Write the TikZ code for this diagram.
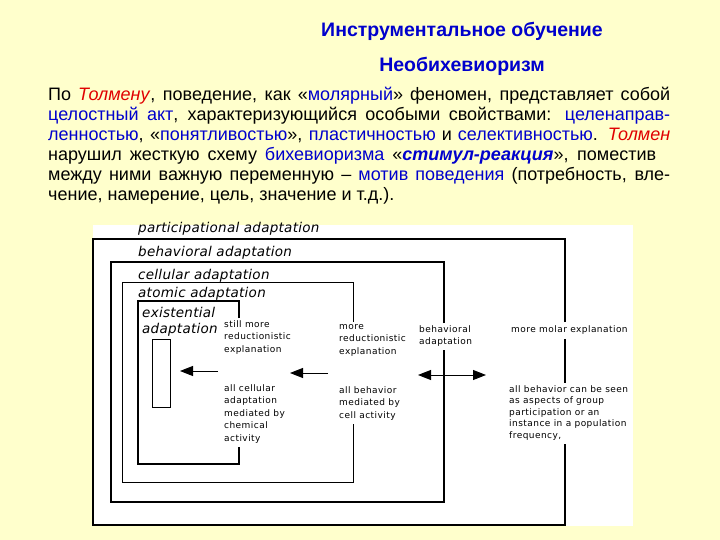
\documentclass[tikz,border=0pt]{standalone}
\usepackage{fontspec}
\usepackage{xcolor}
\usepackage{tikz}
\usetikzlibrary{positioning, arrows.meta}
\setmainfont{Liberation Sans}
\newfontfamily\diagfont[LetterSpace=5]{DejaVu Sans}
\newfontfamily\framefont[LetterSpace=2]{DejaVu Sans}
\definecolor{slideyellow}{HTML}{FFFFCC}
\definecolor{headblue}{HTML}{0000CC}
\definecolor{termblue}{HTML}{0000CC}
\definecolor{namered}{HTML}{E00000}
\newcommand{\term}[1]{\textcolor{termblue}{#1}}
\newcommand{\tolman}[1]{\textcolor{namered}{\textit{#1}}}

\tikzset{
  headline/.style={font=\bfseries\fontsize{19.5}{22}\selectfont, text=headblue,
                   anchor=base, inner sep=0pt},
  framelabel/.style={font=\framefont\itshape\fontsize{13.5}{16}\selectfont,
                     align=left, anchor=base west, inner sep=0pt},
  note/.style={font=\diagfont\fontsize{9}{12.5}\selectfont, align=left,
               anchor=north west, inner xsep=0pt, inner ysep=2pt,
               execute at begin node=\strut, execute at end node=\strut},
  thinframe/.style={line width=1pt},
  atomframe/.style={line width=1.3pt},
  thickframe/.style={line width=2.6pt},
  outerframe/.style={line width=1.4pt},
  pointer/.style={line width=1pt, -{Triangle[length=13pt,width=10pt]}},
  twoway/.style={line width=1pt, {Triangle[length=13pt,width=10pt]}-{Triangle[length=13pt,width=10pt]}}
}

\begin{document}
\begin{tikzpicture}[x=1pt, y=-1pt]
  \useasboundingbox (0,0) rectangle (720,540);
  \fill[slideyellow] (0,0) rectangle (720,540);
  \fill[white] (93,225) rectangle (633,526);

  % heading
  \node[headline] (title) at (462,37) {Инструментальное обучение};
  \node[headline] (subtitle) at (462,72) {Необихевиоризм};

  % text block
  \node[anchor=north west, inner sep=0pt, text width=622pt, align=justify,
        font=\fontsize{18}{20}\selectfont] (para) at (48,87) {%
    По \tolman{Толмену}, поведение, как «\term{молярный}» феномен, представляет собой\linebreak
    \term{целостный акт}, характеризующийся особыми свойствами: \term{целенаправ-}\linebreak
    \term{ленностью}, «\term{понятливостью}», \term{пластичностью} и \term{селективностью}. \tolman{Толмен}\linebreak
    нарушил жесткую схему \term{бихевиоризма} «\term{\textbf{\textit{стимул-реакция}}}», поместив\hspace{14pt}\mbox{}\linebreak
    между ними важную переменную – \term{мотив поведения} (потребность, вле-\linebreak
    чение, намерение, цель, значение и т.д.).};

  % frame labels
  \node[framelabel] (partlbl) at (138,233) {participational adaptation};
  \node[framelabel] (behavlbl) at (138,256) {behavioral adaptation};
  \node[framelabel] (celllbl) at (138,279) {cellular adaptation};
  \node[framelabel] (atomlbl) at (138,297) {atomic adaptation};
  \node[framelabel] (existlbl) at (142,333) {existential\\adaptation};

  % explanations
  \node[note] (stillmore) at (224,318) {still more\\reductionistic\\explanation};
  \node[note] (allcell) at (224,382) {all cellular\\adaptation\\mediated by\\chemical\\activity};
  \node[note] (morered) at (339,322) {more\\reductionistic\\explanation};
  \node[note] (allbeh) at (339,384) {all behavior\\mediated by\\cell activity};
  \node[note] (behadapt) at (419,323) {behavioral\\adaptation};
  \node[note] (molar) at (511,322) {more molar explanation};
  \node[note, font=\diagfont\fontsize{9}{11.5}\selectfont] (allgroup) at (509,383)
       {all behavior can be seen\\as aspects of group\\participation or an\\instance in a population\\frequency,};

  % frames
  \coordinate (partNW) at (93,239);
  \coordinate (partSE) at (565,525);
  \draw[outerframe] (molar.north -| partSE) -- (partSE |- partNW) -- (partNW)
       -- (partNW |- partSE) -- (partSE) -- (allgroup.south -| partSE);
  \draw[outerframe] (molar.south -| partSE) -- (allgroup.north -| partSE);

  \coordinate (behavNW) at (111,262);
  \coordinate (behavSE) at (444,502);
  \draw[thickframe] (behadapt.north -| behavSE) -- (behavSE |- behavNW) -- (behavNW)
       -- (behavNW |- behavSE) -- (behavSE) -- (behadapt.south -| behavSE);

  \coordinate (cellNW) at (122,282);
  \coordinate (cellSE) at (353,482);
  \draw[thinframe] (morered.north -| cellSE) -- (cellSE |- cellNW) -- (cellNW)
       -- (cellNW |- cellSE) -- (cellSE) -- (allbeh.south -| cellSE);

  \coordinate (atomNW) at (138,301);
  \coordinate (atomSE) at (239,464);
  \draw[atomframe] (stillmore.north -| atomSE) -- (atomSE |- atomNW) -- (atomNW)
       -- (atomNW |- atomSE) -- (atomSE) -- (allcell.south -| atomSE);

  \node[draw, thinframe, minimum width=18pt, minimum height=68pt, inner sep=0pt] (existbox) at (161,373) {};

  % arrows
  \coordinate (atomfrom) at (218,371);
  \coordinate (atomto) at (180,371);
  \draw[pointer] (atomfrom) -- (atomto);
  \coordinate (cellfrom) at (328,373);
  \coordinate (cellto) at (290,373);
  \draw[pointer] (cellfrom) -- (cellto);
  \coordinate (behavleft) at (418,375);
  \coordinate (behavright) at (486,375);
  \draw[twoway] (behavleft) -- (behavright);
\end{tikzpicture}
\end{document}
